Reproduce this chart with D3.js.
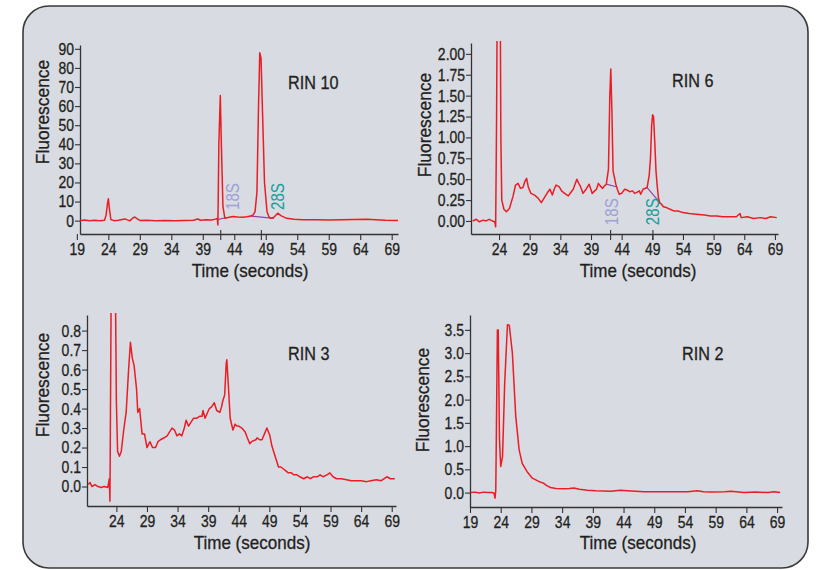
<!DOCTYPE html>
<html>
<head>
<meta charset="utf-8">
<script src="https://cdn.jsdelivr.net/npm/d3@7"></script>
<style>
  body { margin: 0; background: #fff; }
  svg text { font-family: "Liberation Sans Narrow", "Arial Narrow", "Liberation Sans", sans-serif; fill: #231f20; }
  svg text.heavy { stroke: #231f20; stroke-width: 0.3px; }
</style>
</head>
<body>
<svg id="chart" width="820" height="570"></svg>
<script>
/* DATA: [time (s), fluorescence] */
const rin10 = [[19.5,0],[20.2,0.3],[21.0,-0.1],[21.8,0.2],[22.6,0],[23.4,0.2],[23.65,3],[23.85,8.5],[24.0,11.5],[24.2,5.5],[24.4,0.6],[24.9,0],[25.6,0.2],[26.2,0.6],[26.65,0.9],[27.0,0.4],[27.4,-0.1],[27.9,1.4],[28.2,1.9],[28.6,0.9],[29.0,0.1],[30,0.2],[31.5,0],[33,0.1],[34.5,-0.1],[36,0.1],[37.5,0.2],[38.2,0.9],[38.6,0.2],[39.5,0.4],[40.4,0.3],[41.0,0.8],[41.3,1.2],[41.4,-2.3],[41.55,40],[41.78,65.6],[41.95,40],[42.2,7.3],[42.5,1.3],[43.0,1.6],[43.8,2.2],[44.5,1.9],[45.3,1.8],[46.0,2.0],[46.6,2.4],[47.0,3.0],[47.3,4.7],[47.6,15],[47.85,60],[48.05,88],[48.25,85],[48.5,55],[48.8,20],[49.2,4.7],[49.5,2.0],[49.8,1.2],[50.3,1.8],[50.9,3.9],[51.4,2.6],[52.3,1.2],[53.5,0.7],[54.9,0.5],[57,0.4],[59,0.3],[61,0.4],[63,0.6],[65,0.7],[66.5,0.4],[68,0.2],[70,0.1]];

const rin6 = [[19.7,0.00],[20.3,0.02],[20.8,-0.01],[21.4,0.01],[21.9,0.0],[22.4,0.02],[22.9,0.0],[23.3,-0.01],[23.45,-0.07],[23.6,1.2],[23.7,2.6],[24.2,2.6],[24.3,1.0],[24.45,0.25],[24.8,0.14],[25.2,0.11],[25.7,0.15],[26.3,0.3],[26.7,0.43],[27.1,0.45],[27.5,0.39],[27.9,0.40],[28.2,0.47],[28.5,0.51],[28.8,0.40],[29.2,0.33],[29.8,0.31],[30.4,0.27],[30.9,0.22],[31.4,0.28],[32.0,0.35],[32.3,0.38],[32.7,0.31],[33.0,0.38],[33.3,0.43],[33.8,0.41],[34.2,0.36],[34.7,0.33],[35.3,0.30],[35.7,0.34],[36.1,0.38],[36.5,0.46],[36.7,0.50],[37.0,0.45],[37.3,0.41],[37.7,0.33],[38.2,0.38],[38.7,0.44],[39.2,0.33],[39.6,0.36],[39.9,0.38],[40.2,0.45],[40.5,0.42],[40.9,0.39],[41.2,0.42],[41.5,0.44],[41.85,0.62],[42.07,1.5],[42.23,1.82],[42.4,1.35],[42.6,0.6],[43.05,0.44],[43.3,0.38],[43.6,0.32],[44.0,0.33],[44.5,0.38],[44.9,0.37],[45.3,0.35],[45.8,0.36],[46.1,0.33],[46.4,0.34],[46.9,0.36],[47.1,0.32],[47.5,0.38],[48.15,0.40],[48.5,0.55],[48.7,0.75],[48.9,1.15],[49.05,1.27],[49.2,1.25],[49.4,0.95],[49.6,0.6],[49.8,0.42],[50.0,0.28],[50.2,0.22],[50.5,0.20],[50.8,0.17],[51.3,0.16],[51.9,0.14],[52.5,0.12],[53.2,0.12],[54.0,0.10],[55.0,0.09],[56.2,0.08],[57.5,0.07],[58.5,0.06],[59.5,0.06],[60.5,0.05],[61.5,0.05],[62.7,0.05],[63.3,0.09],[63.5,0.04],[64.5,0.05],[65.5,0.03],[66.6,0.04],[67.5,0.03],[68.3,0.05],[69.3,0.04]];

const rin3 = [[19.4,0.01],[19.7,0.02],[20.0,0.0],[20.5,0.01],[21.0,0.0],[21.5,-0.005],[22.0,0.0],[22.6,-0.005],[22.85,0.04],[22.95,-0.075],[23.15,1.0],[23.85,1.0],[24.0,0.44],[24.2,0.18],[24.5,0.155],[24.8,0.18],[25.2,0.29],[25.6,0.38],[26.0,0.60],[26.3,0.74],[26.6,0.66],[26.9,0.62],[27.3,0.50],[27.5,0.38],[27.8,0.40],[28.2,0.27],[28.6,0.27],[29.0,0.20],[29.5,0.23],[29.9,0.20],[30.4,0.20],[30.8,0.23],[31.2,0.24],[31.8,0.25],[32.3,0.26],[32.7,0.28],[33.1,0.30],[33.5,0.29],[33.9,0.26],[34.3,0.27],[34.7,0.26],[35.1,0.30],[35.4,0.34],[35.8,0.31],[36.2,0.33],[36.6,0.35],[37.1,0.35],[37.6,0.36],[38.0,0.36],[38.15,0.39],[38.5,0.35],[38.9,0.38],[39.2,0.40],[39.6,0.41],[40.0,0.43],[40.4,0.39],[40.9,0.38],[41.2,0.41],[41.4,0.44],[41.7,0.47],[41.95,0.63],[42.05,0.65],[42.3,0.52],[42.6,0.35],[43.05,0.29],[43.4,0.32],[43.7,0.31],[44.0,0.31],[44.5,0.30],[45.05,0.28],[45.4,0.25],[45.8,0.22],[46.1,0.23],[46.4,0.235],[46.8,0.24],[47.0,0.25],[47.4,0.24],[47.8,0.24],[48.2,0.27],[48.6,0.30],[49.1,0.26],[49.4,0.21],[49.7,0.18],[50.1,0.14],[50.5,0.10],[50.9,0.10],[51.3,0.09],[51.7,0.08],[52.1,0.07],[52.6,0.07],[53.0,0.06],[53.5,0.06],[54.0,0.05],[54.6,0.04],[55.2,0.05],[55.7,0.04],[56.2,0.05],[56.8,0.05],[57.3,0.06],[57.8,0.05],[58.4,0.06],[58.9,0.07],[59.4,0.05],[60.0,0.04],[60.8,0.04],[61.6,0.035],[62.4,0.03],[63.2,0.03],[64.0,0.03],[64.9,0.025],[65.6,0.03],[66.5,0.035],[67.3,0.03],[68.2,0.05],[68.8,0.04],[69.5,0.04]];

const rin2 = [[19.1,0.0],[19.8,0.01],[20.5,-0.01],[21.2,0.01],[21.9,0.0],[22.5,0.0],[22.9,-0.01],[23.07,-0.12],[23.2,0.05],[23.46,3.5],[23.6,3.5],[23.8,1.14],[24.0,0.56],[24.3,0.78],[24.65,2.36],[25.1,3.61],[25.4,3.6],[25.9,3.0],[26.45,1.64],[27.0,0.92],[27.5,0.63],[28.3,0.45],[29.15,0.31],[30.2,0.24],[30.6,0.22],[31.0,0.20],[31.5,0.15],[32.1,0.11],[33.0,0.09],[34.3,0.08],[35.2,0.09],[35.9,0.10],[36.8,0.07],[38.1,0.05],[39.5,0.04],[41.9,0.03],[43.5,0.05],[44.6,0.04],[46.0,0.03],[47.3,0.02],[50.0,0.02],[52.7,0.02],[54.5,0.02],[56.0,0.04],[57.0,0.02],[58.2,0.01],[60.5,0.02],[61.5,0.03],[63.6,0.0],[65.5,0.01],[67.5,0.0],[68.5,0.02],[69.5,0.0]];

/* peak baselines (purple) and ribosomal peak markers */
const base10 = [[[41.3,0.5],[42.5,1.4]], [[46.6,2.4],[50.3,1.2]]];
const base6 = [[[41.5,0.44],[43.1,0.41]], [[48.15,0.40],[50.0,0.24]]];
const peaks10 = [41.85, 48.3];
const peaks6 = [42.2, 49.1];
const peakNames = ["18S", "28S"];
const tags10 = [[43.8, 5.6], [50.9, 5.6]];
const tags6 = [[42.35, -0.05], [49.0, -0.05]];

/* tick values */
const xTicksFull = [19, 24, 29, 34, 39, 44, 49, 54, 59, 64, 69];
const xTicksShort = [24, 29, 34, 39, 44, 49, 54, 59, 64, 69];
const yTicks10 = [0, 10, 20, 30, 40, 50, 60, 70, 80, 90];
const yTicks6 = [0, 0.25, 0.5, 0.75, 1, 1.25, 1.5, 1.75, 2];
const yTicks3 = [0, 0.1, 0.2, 0.3, 0.4, 0.5, 0.6, 0.7, 0.8];
const yTicks2 = [0, 0.5, 1, 1.5, 2, 2.5, 3, 3.5];
const rinLabels = ["RIN 10", "RIN 6", "RIN 3", "RIN 2"];

/* LAYOUT */
const panels = [
  { data: rin10, label: rinLabels[0], left: 80, right: 398, top: 45, bottom: 234, xd: [19.5, 70], yd: [-7, 92],
    xt: xTicksFull, yt: yTicks10, fmt: d3.format("d"), ytitle: [43, 112], xtitle: [250, 277], rin: [288, 89],
    bases: base10, peaks: peaks10, tags: tags10 },
  { data: rin6, label: rinLabels[1], left: 471, right: 778, top: 43, bottom: 234, xd: [19.43, 69.5], yd: [-0.156, 2.13],
    xt: xTicksShort, yt: yTicks6, fmt: d3.format(".2f"), ytitle: [425, 125], xtitle: [638, 277], rin: [672, 87],
    bases: base6, peaks: peaks6, tags: tags6 },
  { data: rin3, label: rinLabels[2], left: 87, right: 396, top: 315, bottom: 506, xd: [19.2, 69.7], yd: [-0.1, 0.88],
    xt: xTicksShort, yt: yTicks3, fmt: d3.format(".1f"), ytitle: [43, 385], xtitle: [252, 549], rin: [288, 360] },
  { data: rin2, label: rinLabels[3], left: 470, right: 782, top: 315, bottom: 507, xd: [19, 69.8], yd: [-0.31, 3.82],
    xt: xTicksFull, yt: yTicks2, fmt: d3.format(".1f"), ytitle: [423, 400], xtitle: [638, 549], rin: [682, 360] }
];

// squeeze text horizontally to mimic the condensed face of the original
function condense(sel, k) {
  sel.each(function () {
    const w = this.getComputedTextLength();
    d3.select(this).attr("textLength", w * k).attr("lengthAdjust", "spacingAndGlyphs");
  });
}

const svg = d3.select("#chart");

// rounded frame
svg.append("rect")
  .attr("x", 23).attr("y", 6)
  .attr("width", 785).attr("height", 562)
  .attr("rx", 26)
  .attr("fill", "#d8dbe2")
  .attr("stroke", "#3a3a3a")
  .attr("stroke-width", 1.6);

panels.forEach((p, i) => {
  const x = d3.scaleLinear().domain(p.xd).range([p.left, p.right]);
  const y = d3.scaleLinear().domain(p.yd).range([p.bottom, p.top]);
  const g = svg.append("g");

  g.append("clipPath").attr("id", "clip" + i)
    .append("rect")
    .attr("x", p.left).attr("y", p.top - 2)
    .attr("width", p.right - p.left).attr("height", p.bottom - p.top + 2);

  // axes
  const yAxis = g.append("g")
    .attr("transform", `translate(${p.left},0)`)
    .call(d3.axisLeft(y).tickValues(p.yt).tickFormat(p.fmt).tickSize(5).tickSizeOuter(0).tickPadding(1));
  const xAxis = g.append("g")
    .attr("transform", `translate(0,${p.bottom})`)
    .call(d3.axisBottom(x).tickValues(p.xt).tickSize(6).tickSizeOuter(0).tickPadding(3));

  [xAxis, yAxis].forEach(a => {
    a.select(".domain").attr("stroke", "#333").attr("stroke-width", 1.3);
    a.selectAll(".tick line").attr("stroke", "#333").attr("stroke-width", 1.1);
    a.selectAll(".tick text").attr("class", "heavy").attr("font-size", 17).attr("fill", "#231f20").call(condense, 0.82);
  });

  // axis titles
  g.append("text")
    .attr("class", "heavy")
    .attr("transform", `translate(${p.ytitle[0]},${p.ytitle[1]}) rotate(-90)`)
    .attr("text-anchor", "middle").attr("dy", "0.35em")
    .attr("font-size", 18.5)
    .text("Fluorescence")
    .call(condense, 0.94);
  g.append("text")
    .attr("class", "heavy")
    .attr("x", p.xtitle[0]).attr("y", p.xtitle[1])
    .attr("text-anchor", "middle")
    .attr("font-size", 18.5)
    .text("Time (seconds)")
    .call(condense, 0.92);

  g.append("text")
    .attr("class", "heavy")
    .attr("x", p.rin[0]).attr("y", p.rin[1])
    .attr("font-size", 18)
    .text(p.label)
    .call(condense, 0.9);

  // peak baselines
  if (p.bases) {
    g.selectAll("path.base")
      .data(p.bases)
      .join("path")
      .attr("class", "base")
      .attr("d", d3.line().x(d => x(d[0])).y(d => y(d[1])))
      .attr("fill", "none")
      .attr("stroke", "#8a46a8")
      .attr("stroke-width", 1.2);
  }

  // trace
  g.append("path")
    .datum(p.data)
    .attr("clip-path", `url(#clip${i})`)
    .attr("d", d3.line().x(d => x(d[0])).y(d => y(d[1])))
    .attr("fill", "none")
    .attr("stroke", "#ec1c24")
    .attr("stroke-width", 1.5)
    .attr("stroke-linejoin", "round");

  // 18S / 28S markers
  if (p.peaks) {
    g.selectAll("line.peak")
      .data(p.peaks)
      .join("line")
      .attr("class", "peak")
      .attr("x1", d => x(d)).attr("x2", d => x(d))
      .attr("y1", p.bottom - 4).attr("y2", p.bottom + 6)
      .attr("stroke", "#333").attr("stroke-width", 1.1);

    g.selectAll("text.tag")
      .data(p.tags)
      .join("text")
      .attr("class", "tag")
      .attr("transform", d => `translate(${x(d[0])},${y(d[1])}) rotate(-90)`)
      .attr("dy", "0.35em")
      .attr("font-size", 18)
      .style("fill", (d, j) => j === 0 ? "#9ea2d6" : "#16a09c")
      .text((d, j) => peakNames[j])
      .call(condense, 0.84);
  }
});
</script>
</body>
</html>
